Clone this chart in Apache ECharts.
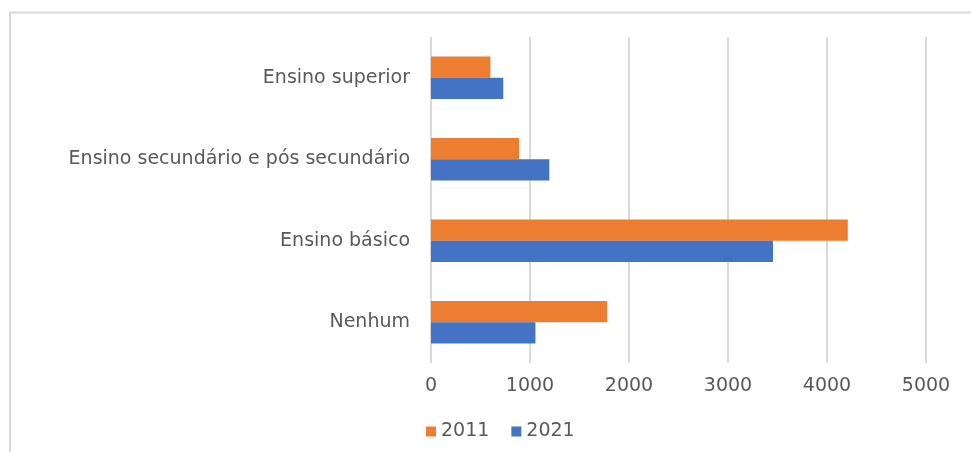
<!DOCTYPE html>
<html>
<head>
<meta charset="utf-8">
<script src="https://cdn.jsdelivr.net/npm/echarts@6/dist/echarts.min.js"></script>
<style>
  html, body { margin: 0; padding: 0; background: #fff; }
  #chart { width: 971px; height: 452px; }
</style>
</head>
<body>
<div id="chart"></div>
<script>
// categories, bottom to top
const categories = ['Nenhum', 'Ensino básico', 'Ensino secundário e pós secundário', 'Ensino superior']
const seriesNames = ['2011', '2021']
const values2011 = [1780, 4210, 890, 600]
const values2021 = [1055, 3455, 1195, 730]
const xTicks = [0, 1000, 2000, 3000, 4000, 5000]

const labelColor = '#595959'
const font = '"DejaVu Sans", Verdana, sans-serif'

const chart = echarts.init(document.getElementById('chart'))

const option = {
  backgroundColor: '#fff',
  animation: false,
  // light frame around the chart area
  graphic: [
    {
      type: 'polyline',
      silent: true,
      shape: { points: [[10, 452], [10, 12.5], [971, 12.5]] },
      style: { stroke: '#d9d9d9', lineWidth: 2, fill: null }
    }
  ],
  grid: {
    left: 431,
    right: 45,
    top: 37,
    bottom: 89
  },
  legend: {
    data: seriesNames,
    left: 421,
    top: 417,
    icon: 'rect',
    itemWidth: 10,
    itemHeight: 10,
    itemGap: 22,
    textStyle: { color: labelColor, fontSize: 19, fontFamily: font }
  },
  xAxis: {
    type: 'value',
    min: xTicks[0],
    max: xTicks[xTicks.length - 1],
    interval: 1000,
    axisLine: { show: false },
    axisTick: { show: false },
    axisLabel: {
      color: labelColor,
      fontSize: 19,
      fontFamily: font,
      margin: 14,
      formatter: (v) => String(v)
    },
    splitLine: { lineStyle: { color: '#d9d9d9', width: 2 } }
  },
  yAxis: {
    type: 'category',
    data: categories,
    axisLine: { show: false },
    axisTick: { show: false },
    axisLabel: { color: labelColor, fontSize: 19, fontFamily: font, margin: 21 },
    splitLine: { show: false }
  },
  series: [
    {
      name: '2011',
      type: 'bar',
      data: values2011,
      barGap: '0%',
      barCategoryGap: '48%',
      itemStyle: { color: '#ED7D31' }
    },
    {
      name: '2021',
      type: 'bar',
      data: values2021,
      barGap: '0%',
      barCategoryGap: '48%',
      itemStyle: { color: '#4472C4' }
    }
  ]
}

chart.setOption(option)
</script>
</body>
</html>
